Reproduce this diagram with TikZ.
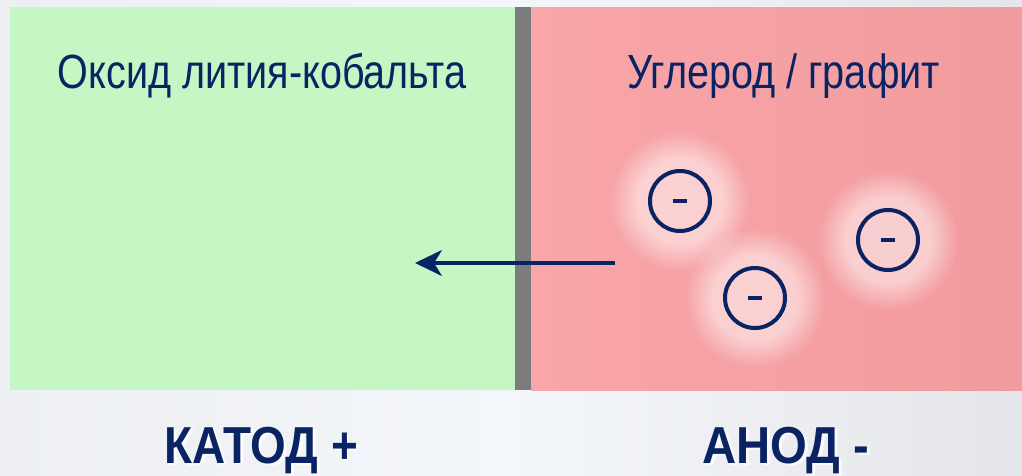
\documentclass[tikz,border=0pt]{standalone}
\usepackage{fontspec}
\setmainfont{Liberation Sans}
\usetikzlibrary{arrows.meta,fadings}
\definecolor{navy}{RGB}{10,36,99}
\definecolor{cathodegreen}{RGB}{197,247,197}
\definecolor{pinkL}{RGB}{249,166,168}
\definecolor{pinkR}{RGB}{242,155,158}
\definecolor{sepgray}{RGB}{124,124,124}
\definecolor{bgL}{RGB}{237,239,242}
\definecolor{bgM}{RGB}{243,246,250}
\definecolor{bgR}{RGB}{229,230,233}
\pgfdeclareradialshading{glowsh}{\pgfpointorigin}{color(0bp)=(white); color(15bp)=(white); color(25bp)=(black); color(50bp)=(black)}
\pgfdeclarefading{glowfade}{\pgfuseshading{glowsh}}
\tikzset{
  panel/.style={inner sep=0pt, outer sep=0pt, draw=none, anchor=north west},
  title/.style={text=navy, anchor=base, inner sep=0pt, font=\fontsize{48}{48}\selectfont},
  pole/.style={anchor=base, inner sep=0pt, font=\fontsize{52}{52}\selectfont\bfseries},
  electron/.style={circle, draw=navy, line width=4pt, minimum size=60pt, inner sep=0pt},
  glow/.style={white, fill opacity=0.5, path fading=glowfade},
  flow/.style={navy, line width=3.3pt, -{Stealth[length=27pt,width=26pt,inset=8pt]}},
}
\begin{document}
\begin{tikzpicture}[x=1pt,y=-1pt]
\useasboundingbox (0,0) rectangle (1022,475);
% background
\shade[left color=bgL, right color=bgR, middle color=bgM] (0,0) rectangle (1022,475);
% panels
\node[panel, fill=cathodegreen, minimum width=505pt, minimum height=383pt] (cathode) at (10,7) {};
\node[panel, left color=pinkL, right color=pinkR, minimum width=491pt, minimum height=383pt] (anode) at (531,7) {};
\node[panel, fill=sepgray, minimum width=16pt, minimum height=383pt] (separator) at (515,7) {};
% titles
\node[title] (t1) at (262,88) {\resizebox{408pt}{\height}{Оксид лития-кобальта}};
\node[title] (t2) at (783.5,88) {\resizebox{313pt}{\height}{Углерод / графит}};
% glows
\coordinate (g1) at (680,201);
\coordinate (g2) at (755,298);
\coordinate (g3) at (888,240);
\fill[glow] (g1) circle (70pt);
\fill[glow] (g2) circle (70pt);
\fill[glow] (g3) circle (70pt);
% electrons
\foreach \n/\p in {e1/g1,e2/g2,e3/g3}{
  \node[electron] (\n) at (\p) {};
  \draw[navy, line width=3.2pt] ([xshift=-7pt]\n.center) -- ([xshift=7pt]\n.center);
}
% arrow
\coordinate (astart) at (615,263);
\coordinate (aend) at (415,263);
\draw[flow] (astart) -- (aend);
% bottom labels with soft shadow
\node[pole, text=white, text opacity=0.8] (catshadow) at (264,465) {\resizebox{193pt}{\height}{КАТОД +}};
\node[pole, text=white, text opacity=0.8] (anshadow) at (788.5,465) {\resizebox{167pt}{\height}{АНОД -}};
\node[pole, text=navy] (cat) at (261.5,463) {\resizebox{193pt}{\height}{КАТОД +}};
\node[pole, text=navy] (an) at (786,463) {\resizebox{167pt}{\height}{АНОД -}};
\end{tikzpicture}
\end{document}
